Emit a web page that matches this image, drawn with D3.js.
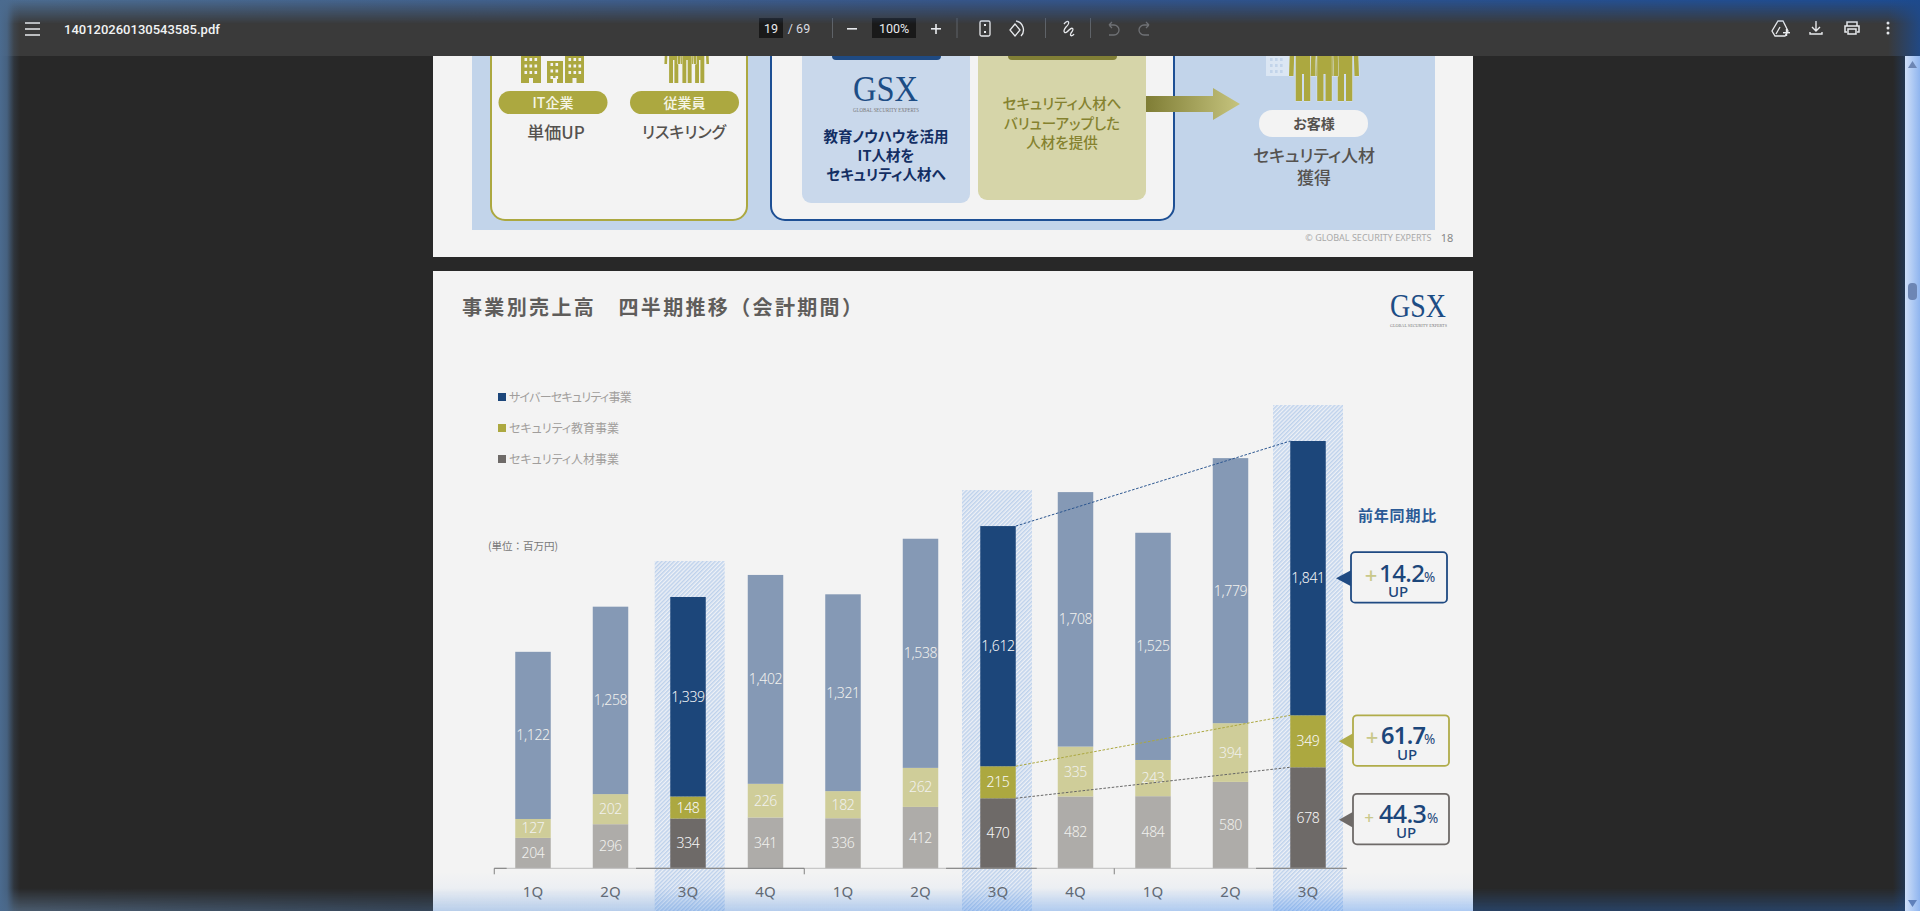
<!DOCTYPE html>
<html lang="ja"><head><meta charset="utf-8">
<script src="https://cdn.jsdelivr.net/npm/d3@7"></script>
<style>
html,body{margin:0;padding:0;background:#282828;overflow:hidden}
svg{display:block}
text{font-family:"Noto Sans CJK JP","Noto Sans",sans-serif;text-spacing-trim:space-all}
.jp{font-feature-settings:"palt"}
.lat{font-family:"Noto Sans","Open Sans",sans-serif}
</style></head><body>
<svg id="c" width="1920" height="911" viewBox="0 0 1920 911"></svg>
<script>
// ---- data ----
const quarters=["1Q","2Q","3Q","4Q","1Q","2Q","3Q","4Q","1Q","2Q","3Q"];
const staffing=[204,296,334,341,336,412,470,482,484,580,678];
const education=[127,202,148,226,182,262,215,335,243,394,349];
const cyber=[1122,1258,1339,1402,1321,1538,1612,1708,1525,1779,1841];
const highlighted=[2,6,10];
const seriesNames=["サイバーセキュリティ事業","セキュリティ教育事業","セキュリティ人材事業"];
const yoyPct=["14.2","61.7","44.3"];
const slideTitle="事業別売上高　四半期推移（会計期間）";
// ---- styles ----
const NAVY="#1c467a",OLIVE="#aca840",GRAY="#6e6a68";
const LIGHT={cyber:"#8599b5",education:"#cfcd99",staffing:"#aeaca9"};
const PAGE="#f3f3f3";
const svg=d3.select("#c");
const defs=svg.append("defs");
const hatch=defs.append("pattern").attr("id","hatch").attr("width",2.9).attr("height",2.9)
  .attr("patternUnits","userSpaceOnUse").attr("patternTransform","rotate(45)");
hatch.append("rect").attr("width",2.9).attr("height",2.9).attr("fill","#eef1f6");
hatch.append("rect").attr("width",1.5).attr("height",2.9).attr("fill","#bed2ec");
function grad(id,x2,y2,stops){
  const g=defs.append("linearGradient").attr("id",id).attr("x1",0).attr("y1",0).attr("x2",x2).attr("y2",y2);
  stops.forEach(s=>g.append("stop").attr("offset",s[0]).attr("stop-color",s[1]).attr("stop-opacity",s[2]===undefined?1:s[2]));
}
function rect(p,x,y,w,h,f,rx){const r=p.append("rect").attr("x",x).attr("y",y).attr("width",w).attr("height",h).attr("fill",f);if(rx)r.attr("rx",rx);return r;}
function txt(p,x,y,s,size,fill,opt={}){
  const t=p.append("text").attr("x",x).attr("y",y).text(s).attr("font-size",size).attr("fill",fill)
   .attr("text-anchor",opt.anchor||"middle").attr("font-weight",opt.weight||400).attr("class",opt.cls===undefined?"jp":opt.cls);
  if(opt.ls)t.attr("letter-spacing",opt.ls);
  if(opt.family)t.style("font-family",opt.family);
  if(opt.len)t.attr("textLength",opt.len).attr("lengthAdjust","spacingAndGlyphs");
  return t;
}
// background
rect(svg,0,0,1920,911,"#282828");
// ---- previous page (slide 18) ----
const p1=svg.append("g");
rect(p1,433,0,1040,257,PAGE);
rect(p1,472,0,963,230,"#c2d4ea");
p1.append("rect").attr("x",491).attr("y",20).attr("width",256).attr("height",200).attr("rx",14).attr("fill",PAGE).attr("stroke",OLIVE).attr("stroke-width",2);
p1.append("rect").attr("x",771).attr("y",20).attr("width",403).attr("height",200).attr("rx",14).attr("fill",PAGE).attr("stroke","#1d4f94").attr("stroke-width",2);
rect(p1,802,20,168,183,"#c9d8eb",9);
rect(p1,978,20,168,180,"#d6d5a9",9);
rect(p1,832,20,109,40,"#1f4a82",4);
rect(p1,1008,20,109,40,"#817f36",4);
// building icon
const bld=p1.append("g");
[[521,20,56],[547,16,61],[565,19,56]].forEach(b=>{
  rect(bld,b[0],b[2],b[1],83-b[2],OLIVE);
  for(let r=0;r<3;r++)for(let c=0;c<(b[1]>18?3:2);c++){
    rect(bld,b[0]+3.5+c*5,b[2]+2+r*6.5,2.6,3,PAGE);
  }
  rect(bld,b[0]+b[1]/2-2,78,4,5,PAGE);
});
// people helper: torso + two legs + two arms
function person(p,cx,top,bot,armEnd,crotch,legW,gap,armW,armGap,col,halo){
  const g=p.append("g").attr("fill",col).attr("stroke",halo).attr("stroke-width",.9).attr("paint-order","stroke");
  const hw=legW+gap/2;
  [-1,1].forEach(s=>{
    const a=cx+s*(hw+armGap), o=a+s*armW;
    g.append("path").attr("d",`M${a},${top} L${o},${top} L${o+s*1.2},${armEnd} L${a+s*1.2},${armEnd} Z`);
  });
  g.append("path").attr("d",`M${cx-hw},${top} L${cx+hw},${top} L${cx+hw},${bot} L${cx+gap/2},${bot} L${cx+gap/2},${crotch} L${cx-gap/2},${crotch} L${cx-gap/2},${bot} L${cx-hw},${bot} Z`);
}
[673.7,699.7,687].forEach(cx=>person(p1,cx,36,83,64,60,3.9,1.4,2.6,.9,OLIVE,PAGE));
// pills
[[498.5,"IT企業"],[630,"従業員"]].forEach(d=>{
  rect(p1,d[0],91,109,23,OLIVE,11.5);
  txt(p1,d[0]+54.5,107.5,d[1],14,"#f5f5e6",{weight:500});
});
txt(p1,556,139,"単価UP",17,"#55524f",{weight:500});
txt(p1,684,138,"リスキリング",16,"#55524f",{weight:500});
// GSX logo helper
function gsx(p,x0,base,size,len,subY,subSize){
  txt(p,x0,base,"GSX",size,"#1d4d85",{anchor:"start",family:'"Liberation Serif",serif',cls:"",len:len});
  txt(p,x0,subY,"GLOBAL SECURITY EXPERTS",subSize,"#777",{anchor:"start",family:'"Liberation Serif",serif',cls:"",len:len+1});
}
gsx(p1,853,101,36,65,112,5.5);
["教育ノウハウを活用","IT人材を","セキュリティ人材へ"].forEach((s,i)=>txt(p1,886,142+i*19,s,14.5,"#132e63",{weight:700}));
["セキュリティ人材へ","バリューアップした","人材を提供"].forEach((s,i)=>txt(p1,1062,109+i*19.5,s,14.5,"#85822f",{weight:500}));
grad("arrowG",1,0,[[0,"#7f7d35"],[1,"#c6c47e"]]);
p1.append("path").attr("d","M1146,96 L1213,96 L1213,88 L1240,104 L1213,120 L1213,112 L1146,112 Z").attr("fill","url(#arrowG)");
// customer icon
const cb=p1.append("g");
rect(cb,1266,56,26,20,"#dbe6f3");
for(let r=0;r<3;r++)for(let c=0;c<3;c++)rect(cb,1270+c*5,58+r*6,2.6,3,"#c2d4ea");
[1303,1345,1324.5].forEach(cx=>person(p1,cx,40,101,76,74,6.3,2,4.5,1,OLIVE,"#dfe8f2"));
rect(p1,1259,110,109,27,PAGE,13);
txt(p1,1314,129,"お客様",14,"#55524f",{weight:700});
txt(p1,1314,162,"セキュリティ人材",17,"#55524f",{weight:500});
txt(p1,1314,184,"獲得",17,"#55524f",{weight:500});
txt(p1,1431.5,241,"© GLOBAL SECURITY EXPERTS",9,"#a9a9a9",{anchor:"end",cls:"lat"});
txt(p1,1447,242,"18",11,"#888",{cls:"lat"});

// ---- chart page ----
const page=svg.append("g");
rect(page,433,271,1040,640,PAGE);
txt(page,462,315,slideTitle,20,"#5f5d5b",{anchor:"start",weight:700,cls:"",ls:2.35});
gsx(page,1390,317,33,56,327,5);
const lg=page.append("g");
const legendColors=[NAVY,OLIVE,GRAY];
seriesNames.forEach((s,i)=>{
  const y=397+i*31;
  rect(lg,498,y-4,8,8,legendColors[i]);
  txt(lg,509,y+4.5,s,12,"#a19e9c",{anchor:"start",ls:i===0?-.75:0});
});
txt(page,488,549.5,"(単位：百万円)",10.5,"#777",{anchor:"start",cls:""});

const x=d3.scaleBand().domain(d3.range(quarters.length)).range([494.25,1346.75]).paddingInner(.542).paddingOuter(.271);
const y=d3.scaleLinear().domain([0,2868]).range([868.3,441]);
const rows=quarters.map((q,i)=>({i,staffing:staffing[i],education:education[i],cyber:cyber[i]}));
const keys=["staffing","education","cyber"];
const stacked=d3.stack().keys(keys)(rows);
const isHi=i=>highlighted.includes(i);
const colorHi={staffing:GRAY,education:OLIVE,cyber:NAVY};
const total=i=>staffing[i]+education[i]+cyber[i];
// hatch bands
page.append("g").selectAll("rect").data(highlighted).join("rect")
  .attr("x",(i,k)=>x(i)+x.bandwidth()/2-35+(k===0?1.7:k===1?-1:0)).attr("width",70)
  .attr("y",i=>y(total(i))-36).attr("height",i=>911-y(total(i))+36)
  .attr("fill","url(#hatch)");
// bars
const bars=page.append("g");
stacked.forEach(s=>{
  bars.selectAll(null).data(s).join("rect")
   .attr("x",d=>x(d.data.i)).attr("width",x.bandwidth())
   .attr("y",d=>y(d[1])).attr("height",d=>y(d[0])-y(d[1]))
   .attr("fill",d=>isHi(d.data.i)?colorHi[s.key]:LIGHT[s.key]);
});
// axis
const axisY=y(0);
const ax=page.append("g");
const bounds=[x.step()*0,x.step()*4,x.step()*8].map(d=>494.25+d);
ax.append("line").attr("x1",494.25).attr("x2",1346.75).attr("y1",axisY).attr("y2",axisY).attr("stroke","#bdbdbd").attr("stroke-width",1);
[[0,0.16],[1.83,4],[5.83,7],[9.83,11]].forEach(s=>{
  const sx=x.step();
  ax.append("line").attr("x1",494.25+s[0]*sx).attr("x2",494.25+s[1]*sx).attr("y1",axisY).attr("y2",axisY).attr("stroke","#7d7d7d").attr("stroke-width",1);
});
ax.selectAll(null).data(bounds).join("line").attr("x1",d=>d).attr("x2",d=>d).attr("y1",axisY).attr("y2",axisY+6).attr("stroke","#808080");
const axisG=page.append("g").attr("transform",`translate(0,${axisY})`)
  .call(d3.axisBottom(x).tickSize(0).tickPadding(18).tickFormat(i=>quarters[i]));
axisG.select(".domain").remove();
axisG.selectAll("text").attr("font-size",15).attr("fill","#666").style("font-family",'"Noto Sans",sans-serif');
// value labels
stacked.forEach(s=>{
  page.append("g").selectAll("text").data(s).join("text")
   .attr("x",d=>x(d.data.i)+x.bandwidth()/2).attr("y",d=>(y(d[0])+y(d[1]))/2+5)
   .attr("text-anchor","middle").attr("font-size",14).attr("font-weight",300).attr("letter-spacing",-.35).attr("class","lat")
   .attr("fill",d=>isHi(d.data.i)?"#f8f8f8":"#f1f1ee")
   .text(d=>d3.format(",")(d.data[s.key]));
});
// connector lines between the two highlighted 3Q bars
const a=highlighted[1],b=highlighted[2];
const connect=[[total(a),total(b),"#2b5690"],[staffing[a]+education[a],staffing[b]+education[b],OLIVE],[staffing[a],staffing[b],"#666"]];
page.append("g").selectAll("line").data(connect).join("line")
  .attr("x1",x(a)+x.bandwidth()).attr("x2",x(b))
  .attr("y1",d=>y(d[0])).attr("y2",d=>y(d[1]))
  .attr("stroke",d=>d[2]).attr("stroke-width",1).attr("stroke-dasharray","2.6 1.6");
// YoY callouts
txt(page,1397.5,521,"前年同期比",15,"#2a5a96",{weight:700,cls:"",ls:.8});
const cfg=[
 {c:"#1f4a82",pct:yoyPct[0],mid:(y(staffing[b]+education[b])+y(total(b)))/2,left:1351,tipX:1336,plus:1371,plusS:22,num:1379,size:24,w:500,pctX:1424,upX:1398,by:4,ub:19},
 {c:"#b0ac4a",pct:yoyPct[1],mid:(y(staffing[b])+y(staffing[b]+education[b]))/2,left:1353,tipX:1339,plus:1372,plusS:22,num:1381,size:23.5,w:600,pctX:1424,upX:1407,by:3,ub:19},
 {c:"#6e6a68",pct:yoyPct[2],mid:(y(0)+y(staffing[b]))/2+2,left:1353,tipX:1339,plus:1369,plusS:17,num:1379,size:25,w:500,pctX:1427,upX:1406,by:3,ub:18}
];
const cg=page.append("g");
cfg.forEach(d=>{
  const top=d.mid-26;
  cg.append("path").attr("d",`M${d.tipX},${d.mid} L${d.left+1},${d.mid-8.5} L${d.left+1},${d.mid+8.5} Z`).attr("fill",d.c);
  cg.append("rect").attr("x",d.left).attr("y",top).attr("width",96).attr("height",50.5).attr("rx",4).attr("fill",PAGE).attr("stroke",d.c).attr("stroke-width",1.8);
  txt(cg,d.plus,d.mid+d.by+1,"+",d.plusS,"#c9c88a",{cls:"lat",weight:500});
  txt(cg,d.num,d.mid+d.by,d.pct,d.size,"#1c467a",{anchor:"start",cls:"lat",weight:d.w,ls:-.6});
  txt(cg,d.pctX,d.mid+d.by,"%",13.5,"#1c467a",{anchor:"start",cls:"lat"});
  txt(cg,d.upX,d.mid+d.ub,"UP",15,"#1c467a",{cls:"lat",weight:500});
});

// ---- toolbar ----
const tb=svg.append("g");
rect(tb,0,0,1920,56,"#3a3a3a");
const iconC="#e8eaed";
[23,29,35].forEach(v=>rect(tb,25,v-.75,15,1.5,iconC));
txt(tb,64,34,"140120260130543585.pdf",13,"#f1f3f4",{anchor:"start",weight:500,cls:"",family:"Roboto"});
rect(tb,759,18,24,20,"#191919");
txt(tb,771,33,"19",12.5,"#e8eaed",{cls:"",family:"Roboto"});
txt(tb,799,33,"/  69",12.5,"#dadce0",{cls:"",family:"Roboto"});
[832,956.5,1045,1090].forEach(v=>rect(tb,v,18,1,20,"#5f6368"));
rect(tb,847,28,10,1.6,iconC);
rect(tb,872,18,44,20,"#191919");
txt(tb,894,33,"100%",12.5,"#e8eaed",{cls:"",family:"Roboto"});
rect(tb,931,28,10,1.6,iconC);rect(tb,935.2,24,1.6,10,iconC);
// fit page
tb.append("rect").attr("x",980).attr("y",21).attr("width",10).attr("height",15).attr("rx",1.5).attr("fill","none").attr("stroke",iconC).attr("stroke-width",1.3);
rect(tb,984,24,2,2,iconC);rect(tb,984,31,2,2,iconC);
// rotate
tb.append("path").attr("d","M1015,24 L1010,30 L1015,36 L1020,30 Z").attr("fill","none").attr("stroke",iconC).attr("stroke-width",1.3);
tb.append("path").attr("d","M1016,21 A9,9 0 0 1 1021,36").attr("fill","none").attr("stroke",iconC).attr("stroke-width",1.3);
// draw
tb.append("path").attr("d","M1064,24 C1068,19 1071,22 1066,27 C1062,32 1065,35 1069,30 C1072,27 1075,28 1071,33 C1069,37 1073,36 1074,34").attr("fill","none").attr("stroke",iconC).attr("stroke-width",1.3);
// undo / redo
[[1113,1],[1145,-1]].forEach(d=>{
  tb.append("path").attr("d",`M${d[0]-4*d[1]},25 L${d[0]+1*d[1]},25 A5,5 0 0 ${d[1]>0?1:0} ${d[0]+1*d[1]},35 L${d[0]-4*d[1]},35 M${d[0]-4*d[1]},25 L${d[0]-1*d[1]},22 M${d[0]-4*d[1]},25 L${d[0]-1*d[1]},28`).attr("fill","none").attr("stroke","#6f7175").attr("stroke-width",1.3);
});
// drive add
tb.append("path").attr("d","M1778,21 L1783,21 L1788,31 L1785,36 L1775,36 L1772,31 Z M1780,27 L1776,34").attr("fill","none").attr("stroke",iconC).attr("stroke-width",1.3);
rect(tb,1783,32,7,1.4,iconC);rect(tb,1785.8,29,1.4,7,iconC);
// download
tb.append("path").attr("d","M1816,21 L1816,30 M1812,27 L1816,31 L1820,27 M1810,32 L1810,34 L1822,34 L1822,32").attr("fill","none").attr("stroke",iconC).attr("stroke-width",1.4);
// print
tb.append("path").attr("d","M1847,26 L1847,22 L1857,22 L1857,26 M1847,32 L1845,32 L1845,26 L1859,26 L1859,32 L1857,32 M1848,29 L1856,29 L1856,34 L1848,34 Z").attr("fill","none").attr("stroke",iconC).attr("stroke-width",1.5);
[23,28,33].forEach(v=>tb.append("circle").attr("cx",1888).attr("cy",v).attr("r",1.5).attr("fill",iconC));

// ---- window edge glow ----
grad("topH",1,0,[[0,"#4c6c90"],[.5,"#36568a"],[1,"#1d4c92"]]);
grad("vFade",0,1,[[0,"#fff"],[1,"#000"]]);
grad("vFadeUp",0,1,[[0,"#000"],[1,"#fff"]]);
defs.append("mask").attr("id","fadeT").attr("maskContentUnits","objectBoundingBox")
  .append("rect").attr("width",1).attr("height",1).attr("fill","url(#vFade)");
defs.append("mask").attr("id","fadeB").attr("maskContentUnits","objectBoundingBox")
  .append("rect").attr("width",1).attr("height",1).attr("fill","url(#vFadeUp)");
rect(svg,0,0,1920,24,"url(#topH)").attr("mask","url(#fadeT)");
grad("botH",1,0,[[0,"#7ca4d0",.42],[.22,"#5a90d0",.3],[.75,"#2a7ff0",.3],[1,"#2a7ff0",.3]]);
rect(svg,0,888,1920,23,"url(#botH)").attr("mask","url(#fadeB)");
grad("botP",0,1,[[0,"#4a8df0",0],[1,"#4a8df0",.1]]);
rect(svg,433,872,1040,39,"url(#botP)");
grad("leftG",1,0,[[0,"#4b6b8f"],[.35,"#4b6b8f",.85],[.7,"#4b6b8f",.2],[1,"#4b6b8f",0]]);
rect(svg,0,0,20,911,"url(#leftG)");
// scrollbar and right fade
grad("rightS",1,0,[[0,"#1f4478",0],[1,"#1f4478",.5]]);
rect(svg,1893,56,12,855,"url(#rightS)");
grad("rightT",1,0,[[0,"#1e4a8c",0],[1,"#1e4a8c",.9]]);
rect(svg,1888,0,32,56,"url(#rightT)");
grad("scr",1,0,[[0,"#cfdff8"],[1,"#8fb5ef"]]);
rect(svg,1905,56,15,855,"url(#scr)");
svg.append("path").attr("d","M1908,68 L1912.5,61 L1917,68 Z").attr("fill","#6d86b4");
svg.append("path").attr("d","M1908,900 L1917,900 L1912.5,907 Z").attr("fill","#5f80ba");
rect(svg,1908,283,9,17,"#6d86b4",4);
</script></body></html>
